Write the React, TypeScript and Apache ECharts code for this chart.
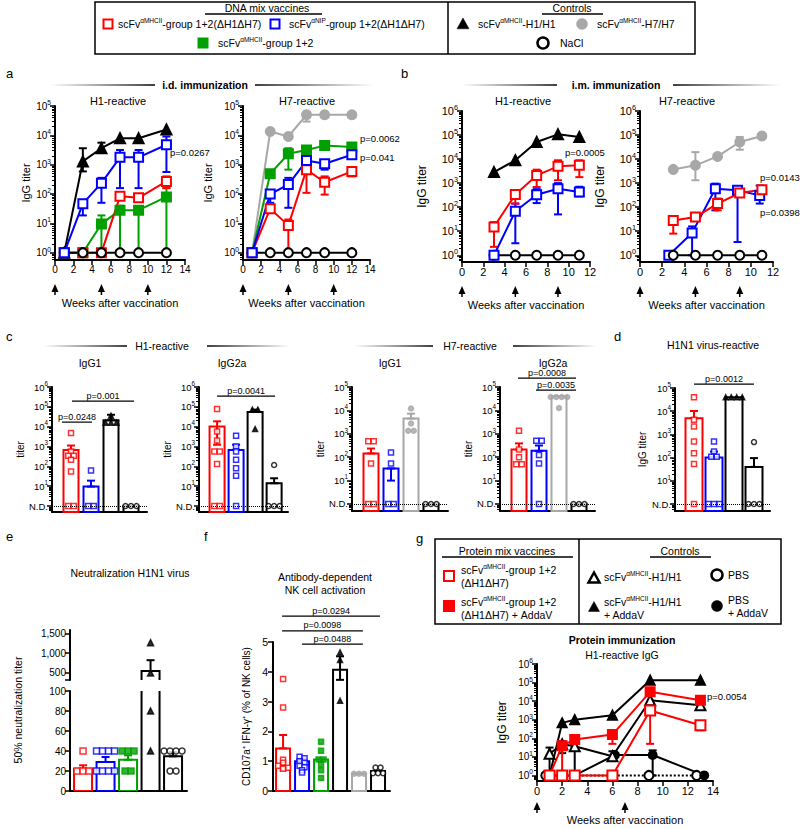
import React, { useEffect, useRef } from 'react';
import * as echarts from 'echarts';

const FONT = '"Liberation Sans", Arial, Helvetica, sans-serif';
const RED = '#ff0000';
const BLUE = '#0000ff';
const GREEN = '#00a000';
const GRAY = '#a8a8a8';
const BLACK = '#000000';

// ---------- Panel a: i.d. immunization (log10 IgG titer) ----------
const aWeeks = [1, 3, 5, 7, 9, 12];
const aVaccWeeks = [0, 5, 10];
const aH1_H1 = [0, 3.11, 3.56, 3.9, 3.9, 4.2];
const aH1_H1_err = [null, [2.77, 3.56], [3.45, 3.75], null, null, null];
const aH1_NIP = [0, 1.67, 2.37, 3.25, 3.25, 3.68];
const aH1_NIP_err = [null, [1.27, 1.8], [1.7, 2.55], [2.2, 3.5], [2.2, 3.5], [2.75, 3.96]];
const aH1_MHC = [0, 0, 0, 1.92, 1.87, 2.43];
const aH1_MHC_err = [null, null, null, [1.85, 2.0], [1.8, 1.95], [2.2, 2.6]];
const aH1_G12 = [0, 0, 0.98, 1.45, 1.45, 1.9];
const aH1_G12_err = [null, null, [0, 1.27], [0, 1.6], [0, 1.55], [0, 2.2]];
const aNaCl = [0, 0, 0, 0, 0, 0];
const aH7_H7 = [0, 4.13, 3.96, 4.7, 4.7, 4.7];
const aH7_H7_err = [null, null, null, [4.47, 4.8], [4.65, 4.76], [4.65, 4.76]];
const aH7_G12 = [0, 2.69, 3.37, 3.5, 3.65, 3.6];
const aH7_G12_err = [null, [2.6, 2.78], [2.83, 3.56], [3.42, 3.6], [3.5, 3.75], null];
const aH7_NIP = [0, 2.0, 2.32, 3.14, 3.03, 3.34];
const aH7_NIP_err = [null, [1.7, 2.1], [1.53, 2.55], [3.0, 3.25], [2.83, 3.15], [3.3, 3.4]];
const aH7_MHC = [0, 1.5, 0.93, 2.83, 2.4, 2.77];
const aH7_MHC_err = [null, [1.36, 1.64], [0, 1.13], [2.04, 2.95], [1.98, 2.6], [2.6, 2.9]];

// ---------- Panel b: i.m. immunization ----------
const bWeeks = [3, 5, 7, 9, 11];
const bVaccWeeks = [0, 5, 9];
const bH1_H1 = [3.46, 3.95, 4.71, 5.03, 4.92];
const bH1_MHC = [1.18, 2.53, 3.32, 3.7, 3.74];
const bH1_MHC_err = [[0.35, 1.38], [2.15, 2.7], [2.84, 3.56], [3.12, 3.95], [3.25, 3.95]];
const bH1_NIP = [0, 1.83, 2.52, 2.77, 2.63];
const bH1_NIP_err = [null, [0.5, 2.15], [2.17, 2.75], [1.7, 3.0], [2.45, 2.85]];
const bNaCl = [0, 0, 0, 0, 0];
const bH7_H7 = [3.57, 3.74, 4.11, 4.71, 4.96];
const bH7_H7_err = [null, [3.12, 4.29], null, [4.39, 4.92], null];
const bH7_MHC = [1.45, 1.59, 2.15, 2.59, 2.73];
const bH7_MHC_err = [[0.9, 1.59], [1.45, 1.73], [1.87, 2.36], [2.45, 2.66], [2.6, 2.8]];
const bH7_NIPWeeks = [2.6, 4.7, 6.8, 8.8, 10.8];
const bH7_NIP = [0, 0.93, 2.77, 2.7, 2.49];
const bH7_NIP_err = [null, [0, 1.2], [1.87, 2.98], [0.55, 2.85], [2.15, 2.9]];

// ---------- Panel c / d: bar titers (log10; 0 = N.D.) ----------
const cH1G1 = [
  { kind: 'redOpen', mean: 2.83, hi: 3.05, pts: [3.68, 2.75, 2.53, 2.53, 2.33, 1.74, 0, 0] },
  { kind: 'blueOpen', mean: 0.98, hi: 1.28, pts: [1.79, 0, 0] },
  { kind: 'blackTri', mean: 4.32, hi: 4.6, pts: [4.55, 4.2, 4.2, 4.2] },
  { kind: 'nacl', mean: 0, pts: [0, 0, 0] },
];
const cH1G2a = [
  { kind: 'redOpen', mean: 4.01, lo: 3.09, hi: 4.27, pts: [4.89, 3.76, 3.3, 2.75, 2.75, 2.12, 0, 0] },
  { kind: 'blueOpen', mean: 2.83, hi: 3.09, pts: [3.54, 3.0, 2.75, 2.33, 1.9, 1.53, 0] },
  { kind: 'blackTri', mean: 4.74, hi: 4.86, pts: [4.86, 4.86, 3.88] },
  { kind: 'nacl', mean: 1.15, hi: 1.4, pts: [2.07, 0, 0, 0] },
];
const cH7G1 = [
  { kind: 'redOpen', mean: 2.16, hi: 2.37, pts: [2.68, 2.68, 1.73, 0, 0] },
  { kind: 'blueOpen', mean: 1.52, lo: 1.0, hi: 1.52, pts: [2.2, 1.73, 0, 0] },
  { kind: 'grayCircle', mean: 3.65, hi: 3.86, pts: [4.08, 3.44, 3.13, 3.13] },
  { kind: 'nacl', mean: 0, pts: [0, 0, 0] },
];
const cH7G2a = [
  { kind: 'redOpen', mean: 2.33, hi: 2.59, pts: [3.13, 2.33, 2.0, 1.7, 1.7] },
  { kind: 'blueOpen', mean: 2.27, hi: 2.5, pts: [2.7, 2.7, 2.09, 1.73, 0] },
  { kind: 'grayCircle', mean: 4.6, pts: [4.57, 4.57, 4.57, 4.57, 4.1] },
  { kind: 'nacl', mean: 0, pts: [0, 0, 0] },
];
const dH1N1 = [
  { kind: 'redOpen', mean: 3.7, hi: 4.01, pts: [4.6, 3.63, 3.34, 2.69, 2.19, 1.73, 0] },
  { kind: 'blueOpen', mean: 2.01, hi: 2.26, pts: [2.69, 2.26, 2.04, 2.04, 0, 0, 0] },
  { kind: 'blackTri', mean: 4.6, pts: [4.6, 4.6, 4.6, 4.6] },
  { kind: 'nacl', mean: 1.6, hi: 1.98, pts: [2.67, 0, 0, 0] },
];
const cH1G1_sig = [[0.55, 2.05, 4.23], [1.05, 4.15, 5.29]];
const cH1G1_sigText = ['p=0.0248', 'p=0.001'];
const cH1G2a_sig = [[1.0, 4.05, 5.54]];
const cH1G2a_sigText = ['p=0.0041'];
const cH7G2a_sig = [[0.95, 3.85, 5.38], [1.85, 3.85, 4.87]];
const cH7G2a_sigText = ['p=0.0008', 'p=0.0035'];
const dSig = [[1.0, 4.0, 5.17]];
const dSigText = ['p=0.0012'];

// ---------- Panel e: neutralization titer ----------
const eNeut = [
  { kind: 'redOpen', mean: 22.3, hi: 25.7, pts: [40, 20, 20, 20] },
  { kind: 'blueOpen', mean: 29, hi: 34, pts: [40, 40, 40, 40, 20, 20, 20, 20] },
  { kind: 'greenOpen', mean: 31.3, hi: 35.7, pts: [40, 40, 40, 20, 20] },
  { kind: 'blackTri', mean: 534, hi: 815, pts: [1270, 480, 80, 40] },
  { kind: 'nacl', mean: 34.7, hi: 39, pts: [40, 40, 40, 40, 20, 20] },
];
const eUpperTicks = [500, 1000, 1500];

// ---------- Panel f: NK activation (%) ----------
const fNK = [
  { kind: 'redOpen', mean: 1.43, hi: 1.88, pts: [3.76, 2.8, 1.05, 0.95, 0.85, 0.78, 0.78, 0.75] },
  { kind: 'blueOpen', mean: 1.0, lo: 0.9, hi: 1.09, pts: [1.15, 1.1, 1.0, 0.95, 0.85, 0.8, 0.7, 0.62] },
  { kind: 'greenFill', mean: 1.06, pts: [1.65, 1.35, 1.06, 1.06, 0.9, 0.7, 0.44] },
  { kind: 'blackTri', mean: 4.07, lo: 3.73, hi: 4.52, pts: [4.65, 4.4, 3.03] },
  { kind: 'grayCircle', mean: 0.58, pts: [0.58, 0.58, 0.58] },
  { kind: 'nacl', mean: 0.67, pts: [0.79, 0.79, 0.6, 0.6, 0.6] },
];
const fSig = [[0.95, 6.1, 5.87], [0.95, 5.2, 5.37], [2.0, 5.2, 4.93]];
const fSigText = ['p=0.0294', 'p=0.0098', 'p=0.0488'];

// ---------- Panel g: protein immunization ----------
const gWeeks = [1, 2, 3, 6, 9, 13];
const gVaccWeeks = [0, 7];
const gMHC = [0, 0, 0, 0, 3.5, 2.7];
const gMHC_err = [null, null, null, null, [1.7, 3.7], [2.43, 2.8]];
const gMHCAdda = [0, 1.6, 1.93, 2.2, 4.5, 4.05];
const gMHCAdda_err = [null, [0, 1.85], null, [1.7, 2.3], null, null];
const gH1 = [1.17, 1.68, 1.57, 1.03, 4.05, 3.78];
const gH1_err = [[0, 1.5], [1.2, 1.85], [0, 1.75], [0.9, 1.3], null, null];
const gH1Adda = [0, 2.83, 3.0, 3.24, 5.13, 5.13];
const gPBSAddaWeeks = [1, 2, 3, 6.2, 9.2, 13.3];
const gPBSAdda = [0, 0, 0, 1.1, 1.1, 0];
const gPBSAdda_err = [null, null, null, null, [0, 1.35], null];
const gPBSWeeks = [0.7, 2, 3, 6, 8.9, 12.7];
const gPBS = [0, 0, 0, 0, 0, 0];

const KIND: any = {
  redOpen: { color: RED, symbol: 'rect', fill: '#fff' },
  blueOpen: { color: BLUE, symbol: 'rect', fill: '#fff' },
  greenFill: { color: GREEN, symbol: 'rect', fill: GREEN },
  greenOpen: { color: GREEN, symbol: 'rect', fill: GREEN },
  blackTri: { color: BLACK, symbol: 'triangle', fill: BLACK },
  grayCircle: { color: GRAY, symbol: 'circle', fill: GRAY },
  nacl: { color: BLACK, symbol: 'circle', fill: '#fff' },
  triOpen: { color: BLACK, symbol: 'triangle', fill: '#fff' },
  redFill: { color: RED, symbol: 'rect', fill: RED },
  blackCircle: { color: BLACK, symbol: 'circle', fill: BLACK },
};

function errRender(colors: any, cap: number, lw: number) {
  return (params: any, api: any) => {
    const col = Array.isArray(colors) ? colors[params.dataIndex] : colors;
    const x = api.value(0), lo = api.value(1), hi = api.value(2);
    const a = api.coord([x, lo]), b = api.coord([x, hi]);
    const st = { stroke: col, lineWidth: lw };
    return {
      type: 'group',
      children: [
        { type: 'line', shape: { x1: a[0], y1: a[1], x2: b[0], y2: b[1] }, style: st },
        { type: 'line', shape: { x1: b[0] - cap, y1: b[1], x2: b[0] + cap, y2: b[1] }, style: st },
        { type: 'line', shape: { x1: a[0] - cap, y1: a[1], x2: a[0] + cap, y2: a[1] }, style: st },
      ],
    };
  };
}

function barRender(colors: string[], w: number, ext: number) {
  return (params: any, api: any) => {
    const c = api.coord([api.value(0), api.value(1)]);
    const cs = params.coordSys;
    const bottom = cs.y + cs.height + ext;
    return {
      type: 'rect',
      shape: { x: c[0] - w / 2, y: c[1], width: w, height: bottom - c[1] },
      style: { fill: '#fff', stroke: colors[params.dataIndex], lineWidth: 2 },
    };
  };
}

function sigRender(texts: string[], fs: number) {
  return (params: any, api: any) => {
    const a = api.coord([api.value(0), api.value(2)]);
    const b = api.coord([api.value(1), api.value(2)]);
    return {
      type: 'group',
      children: [
        { type: 'line', shape: { x1: a[0], y1: a[1], x2: b[0], y2: b[1] }, style: { stroke: '#000', lineWidth: 1.2 } },
        {
          type: 'text', x: (a[0] + b[0]) / 2, y: a[1] - 1,
          style: { text: texts[params.dataIndex], fill: '#000', fontSize: fs, fontFamily: FONT, align: 'center', textAlign: 'center', verticalAlign: 'bottom', textVerticalAlign: 'bottom' },
        },
      ],
    };
  };
}

function arrowRender(off: number) {
  return (params: any, api: any) => {
    const cs = params.coordSys;
    const p = api.coord([api.value(0), api.value(1)]);
    const x = p[0], y = cs.y + cs.height + off;
    return {
      type: 'group',
      children: [
        { type: 'polygon', shape: { points: [[x, y], [x - 3.5, y + 8], [x + 3.5, y + 8]] }, style: { fill: '#000' } },
        { type: 'line', shape: { x1: x, y1: y + 7, x2: x, y2: y + 11 }, style: { stroke: '#000', lineWidth: 1.5 } },
      ],
    };
  };
}

function swarm(vals: number[], tol: number, step: number) {
  const offs = vals.map(() => 0);
  const used = vals.map(() => false);
  for (let i = 0; i < vals.length; i++) {
    if (used[i]) continue;
    const grp = [i];
    used[i] = true;
    for (let j = i + 1; j < vals.length; j++) {
      if (!used[j] && Math.abs(vals[j] - vals[i]) <= tol) { grp.push(j); used[j] = true; }
    }
    grp.forEach((idx, r) => { offs[idx] = (r - (grp.length - 1) / 2) * step; });
  }
  return offs;
}

function buildOption() {
  const grid: any[] = [], xAxis: any[] = [], yAxis: any[] = [], series: any[] = [];
  const addGrid = (left: number, top: number, width: number, height: number, x: any, ys: any[]) => {
    const gi = grid.length;
    grid.push({ left, top, width, height, containLabel: false, outerBoundsMode: 'none' });
    const xi = xAxis.length;
    xAxis.push({ ...x, gridIndex: gi });
    const yi = yAxis.length;
    ys.forEach((y) => yAxis.push({ ...y, gridIndex: gi }));
    return { xi, yi };
  };
  const axLine = { show: true, onZero: false, lineStyle: { color: '#000', width: 2 } };
  const nameStyle = (fs: number) => ({ color: '#000', fontSize: fs, fontFamily: FONT });

  const xWeeks = (max: number, gap: number, fs: number) => ({
    type: 'value', min: 0, max, interval: 2,
    axisLine: axLine,
    axisTick: { show: true, length: 5, lineStyle: { color: '#000', width: 1.5 } },
    axisLabel: { color: '#000', fontSize: fs, fontFamily: FONT, margin: 4 },
    splitLine: { show: false },
    name: 'Weeks after vaccination', nameLocation: 'middle', nameGap: gap, nameTextStyle: nameStyle(11),
  });
  const xBars = (min: number, max: number, show: boolean) => ({
    type: 'value', min, max, show,
    axisLine: axLine, axisTick: { show: false }, axisLabel: { show: false }, splitLine: { show: false },
  });
  const yLog = (min: number, max: number, o: any) => {
    const majors: number[] = [];
    for (let d = Math.ceil(min); d <= max + 1e-9; d++) majors.push(d);
    const minors: number[] = [];
    for (let d = Math.floor(min); d < max; d++) {
      for (let k = 2; k <= 9; k++) {
        const v = d + Math.log10(k);
        if (v > min && v < max) minors.push(v);
      }
    }
    const fs = o.fs;
    return [
      {
        type: 'value', min, max, position: 'left',
        axisLine: axLine,
        axisTick: { show: true, customValues: majors, length: 5, lineStyle: { color: '#000', width: 1.5 } },
        axisLabel: {
          show: true, customValues: majors, color: '#000', fontSize: fs, fontFamily: FONT, margin: 4,
          formatter: (v: number) => (o.nd && Math.abs(v) < 1e-6 ? '{b|N.D.}' : '{b|10}{e|' + Math.round(v) + '}'),
          rich: {
            b: { fontSize: fs, fontFamily: FONT, color: '#000', lineHeight: fs + 4 },
            e: { fontSize: fs * 0.66, fontFamily: FONT, color: '#000', verticalAlign: 'top', lineHeight: fs * 0.66 + 1 },
          },
        },
        splitLine: { show: false },
        name: o.name || '', nameLocation: 'middle', nameGap: o.gap || 30, nameTextStyle: nameStyle(o.nfs || 11),
      },
      {
        type: 'value', min, max, position: 'left',
        axisLine: { show: false }, axisLabel: { show: false }, splitLine: { show: false },
        axisTick: { show: true, customValues: minors, length: 3, lineStyle: { color: '#000', width: 1 } },
      },
    ];
  };

  const lineS = (G: any, weeks: number[], vals: number[], err: any[] | null, kind: string, size: number, dotted?: boolean) => {
    const k = KIND[kind];
    const out: any[] = [];
    if (err) {
      const ed: any[] = [];
      weeks.forEach((w, i) => { if (err[i]) ed.push([w, err[i][0], err[i][1]]); });
      out.push({ type: 'custom', xAxisIndex: G.xi, yAxisIndex: G.yi, silent: true, z: 2, renderItem: errRender(k.color, 4, 2), data: ed });
    }
    out.push({
      type: 'line', xAxisIndex: G.xi, yAxisIndex: G.yi, silent: true, z: 3,
      data: weeks.map((w, i) => [w, vals[i]]),
      symbol: k.symbol, symbolSize: size, showSymbol: true, showAllSymbol: true,
      lineStyle: { color: k.color, width: 2, type: dotted ? 'dotted' : 'solid' },
      itemStyle: { color: k.fill, borderColor: k.color, borderWidth: 2 },
    });
    return out;
  };
  const arrowS = (G: any, weeks: number[], off: number) => ({
    type: 'custom', xAxisIndex: G.xi, yAxisIndex: G.yi, silent: true, z: 5,
    renderItem: arrowRender(off), data: weeks.map((w) => [w, 0]),
  });
  const sigS = (G: any, data: number[][], texts: string[], fs: number) => ({
    type: 'custom', xAxisIndex: G.xi, yAxisIndex: G.yi, silent: true, z: 5,
    renderItem: sigRender(texts, fs), data,
  });
  const barPanel = (G: any, groups: any[], o: any) => {
    const lo = o.rlo ?? -Infinity, hi = o.rhi ?? Infinity;
    const out: any[] = [];
    const bd: any[] = [], bc: string[] = [];
    groups.forEach((g, i) => { if (g.mean >= lo) { bd.push([i + 1, g.mean]); bc.push(KIND[g.kind].color); } });
    out.push({ type: 'custom', xAxisIndex: G.xi, yAxisIndex: G.yi, silent: true, clip: !!o.clip, z: 1, renderItem: barRender(bc, o.barW, o.ext || 0), data: bd });
    const ed: any[] = [], ec: string[] = [];
    groups.forEach((g, i) => {
      if (g.hi != null && g.hi >= lo && g.hi <= hi) { ed.push([i + 1, g.lo ?? g.mean, g.hi]); ec.push(KIND[g.kind].color); }
    });
    out.push({ type: 'custom', xAxisIndex: G.xi, yAxisIndex: G.yi, silent: true, z: 2, renderItem: errRender(ec, 4, 2), data: ed });
    const pts: any[] = [];
    groups.forEach((g, i) => {
      const k = KIND[g.kind];
      const vals = g.pts.filter((v: number) => v >= lo && v <= hi);
      const offs = swarm(vals, o.tol, o.step);
      vals.forEach((v: number, j: number) => pts.push({
        value: [i + 1, v], symbol: k.symbol, symbolSize: o.pt, symbolOffset: [offs[j], 0],
        itemStyle: { color: k.fill, borderColor: k.color, borderWidth: 1.5 },
      }));
    });
    const sc: any = { type: 'scatter', xAxisIndex: G.xi, yAxisIndex: G.yi, silent: true, z: 3, data: pts };
    if (o.nd) {
      sc.markLine = { silent: true, symbol: 'none', label: { show: false }, lineStyle: { type: 'dotted', color: '#000', width: 1 }, data: [{ yAxis: 0 }] };
    }
    out.push(sc);
    return out;
  };

  // ---- a ----
  const A1 = addGrid(55, 106, 130, 154, xWeeks(14, 37, 10), yLog(-0.25, 5, { name: 'IgG titer', gap: 24, fs: 10 }));
  series.push(
    ...lineS(A1, aWeeks, aH1_G12, aH1_G12_err, 'greenFill', 9),
    ...lineS(A1, aWeeks, aH1_MHC, aH1_MHC_err, 'redOpen', 9),
    ...lineS(A1, aWeeks, aH1_H1, aH1_H1_err, 'blackTri', 10),
    ...lineS(A1, aWeeks, aNaCl, null, 'nacl', 9),
    ...lineS(A1, aWeeks, aH1_NIP, aH1_NIP_err, 'blueOpen', 9),
    arrowS(A1, aVaccWeeks, 24),
  );
  const A2 = addGrid(243, 106, 127, 154, xWeeks(14, 37, 10), yLog(-0.25, 5, { name: 'IgG titer', gap: 30, fs: 10 }));
  series.push(
    ...lineS(A2, aWeeks, aH7_H7, aH7_H7_err, 'grayCircle', 9),
    ...lineS(A2, aWeeks, aH7_G12, aH7_G12_err, 'greenFill', 9),
    ...lineS(A2, aWeeks, aH7_MHC, aH7_MHC_err, 'redOpen', 9),
    ...lineS(A2, aWeeks, aNaCl, null, 'nacl', 9),
    ...lineS(A2, aWeeks, aH7_NIP, aH7_NIP_err, 'blueOpen', 9),
    arrowS(A2, aVaccWeeks, 24),
  );
  // ---- b ----
  const B1 = addGrid(462, 111, 128, 151, xWeeks(12, 37, 11), yLog(-0.28, 6, { name: 'IgG titer', gap: 34, fs: 11, nfs: 12 }));
  series.push(
    ...lineS(B1, bWeeks, bH1_H1, null, 'blackTri', 10),
    ...lineS(B1, bWeeks, bNaCl, null, 'nacl', 9),
    ...lineS(B1, bWeeks, bH1_NIP, bH1_NIP_err, 'blueOpen', 9),
    ...lineS(B1, bWeeks, bH1_MHC, bH1_MHC_err, 'redOpen', 9),
    arrowS(B1, bVaccWeeks, 24),
  );
  const B2 = addGrid(640, 111, 133, 151, xWeeks(12, 37, 11), yLog(-0.28, 6, { name: 'IgG titer', gap: 34, fs: 11, nfs: 12 }));
  series.push(
    ...lineS(B2, bWeeks, bH7_H7, bH7_H7_err, 'grayCircle', 9),
    ...lineS(B2, bH7_NIPWeeks, bH7_NIP, bH7_NIP_err, 'blueOpen', 9),
    ...lineS(B2, bWeeks, bNaCl, null, 'nacl', 9),
    ...lineS(B2, bWeeks, bH7_MHC, bH7_MHC_err, 'redOpen', 9),
    arrowS(B2, bVaccWeeks, 24),
  );
  // ---- c ----
  const barOpt = { barW: 15, tol: 0.12, step: 5.5, pt: 5, nd: true };
  const C1 = addGrid(52, 387, 95, 125, xBars(0.05, 4.8, true), yLog(-0.3, 6, { name: 'titer', gap: 26, fs: 9.5, nd: true, nfs: 10 }));
  series.push(...barPanel(C1, cH1G1, barOpt), sigS(C1, cH1G1_sig, cH1G1_sigText, 9));
  const C2 = addGrid(199, 387, 89, 125, xBars(0.05, 4.73, true), yLog(-0.3, 6, { name: 'titer', gap: 26, fs: 9.5, nd: true, nfs: 10 }));
  series.push(...barPanel(C2, cH1G2a, barOpt), sigS(C2, cH1G2a_sig, cH1G2a_sigText, 9));
  const C3 = addGrid(352, 387, 96, 124, xBars(0.05, 4.85, true), yLog(-0.3, 5, { name: 'titer', gap: 26, fs: 9.5, nd: true, nfs: 10 }));
  series.push(...barPanel(C3, cH7G1, barOpt));
  const C4 = addGrid(500, 387, 95, 124, xBars(0.05, 4.8, true), yLog(-0.3, 5, { name: 'titer', gap: 26, fs: 9.5, nd: true, nfs: 10 }));
  series.push(...barPanel(C4, cH7G2a, barOpt), sigS(C4, cH7G2a_sig, cH7G2a_sigText, 9));
  const D = addGrid(675, 388, 95, 123, xBars(0.05, 4.8, true), yLog(-0.3, 5, { name: 'IgG titer', gap: 28, fs: 9.5, nd: true, nfs: 10 }));
  series.push(...barPanel(D, dH1N1, { ...barOpt, barW: 17 }), sigS(D, dSig, dSigText, 9));

  // ---- e ----
  const linY = (min: number, max: number, extra: any) => ({
    type: 'value', min, max, position: 'left',
    axisLine: axLine,
    axisTick: { show: true, length: 5, lineStyle: { color: '#000', width: 1.5 } },
    axisLabel: { color: '#000', fontSize: 10, fontFamily: FONT, margin: 4 },
    splitLine: { show: false },
    ...extra,
  });
  const EU = addGrid(70, 630, 117, 50, xBars(0.42, 5.62, false), [linY(300, 1600, {
    axisTick: { show: true, customValues: [300, ...eUpperTicks], length: 5, lineStyle: { color: '#000', width: 1.5 } },
    axisLabel: { customValues: eUpperTicks, color: '#000', fontSize: 10, fontFamily: FONT, margin: 4, formatter: (v: number) => v.toLocaleString('en-US') },
  })]);
  series.push(...barPanel(EU, eNeut, { barW: 18, tol: 5, step: 6, pt: 6, rlo: 300, rhi: 1600, clip: true, ext: 4 }));
  const EL = addGrid(70, 691, 117, 100, xBars(0.42, 5.62, true), [linY(0, 100, { interval: 20 })]);
  series.push(...barPanel(EL, eNeut, { barW: 18, tol: 5, step: 6, pt: 6, rlo: 0, rhi: 100, clip: true }));

  // ---- f ----
  const F = addGrid(273, 642, 117, 149, xBars(0.47, 6.63, true), [linY(0, 5, {
    interval: 1, axisLabel: { color: '#000', fontSize: 10.5, fontFamily: FONT, margin: 5 },
    name: 'CD107a⁺ IFN-γ⁺ (% of NK cells)', nameLocation: 'middle', nameGap: 22, nameTextStyle: nameStyle(10),
  })]);
  series.push(...barPanel(F, fNK, { barW: 14, tol: 0.07, step: 5, pt: 5 }), sigS(F, fSig, fSigText, 9));

  // ---- g ----
  const G = addGrid(537, 664, 176, 117, xWeeks(14, 33, 11), yLog(-0.3, 6, { name: 'IgG titer', gap: 29, fs: 10, nfs: 12 }));
  series.push(
    ...lineS(G, gPBSWeeks, gPBS, null, 'nacl', 9, true),
    ...lineS(G, gPBSAddaWeeks, gPBSAdda, gPBSAdda_err, 'blackCircle', 8),
    ...lineS(G, gWeeks, gH1Adda, null, 'blackTri', 9),
    ...lineS(G, gWeeks, gH1, gH1_err, 'triOpen', 10),
    ...lineS(G, gWeeks, gMHCAdda, gMHCAdda_err, 'redFill', 9),
    ...lineS(G, gWeeks, gMHC, gMHC_err, 'redOpen', 10),
    arrowS(G, gVaccWeeks, 21),
  );

  // ---- graphics ----
  const gr: any[] = [];
  const T = (x: number, y: number, text: string, fs: number, o: any = {}) => ({
    type: 'text', x, y, rotation: o.rot || 0,
    style: {
      text, fill: '#000', fontSize: fs, fontFamily: FONT, fontWeight: o.bold ? 'bold' : 'normal',
      align: o.align || 'center', textAlign: o.align || 'center', verticalAlign: 'middle', textVerticalAlign: 'middle',
    },
  });
  const RT = (x: number, y: number, pre: string, sup: string, post: string, fs: number) => ({
    type: 'text', x, y,
    style: {
      text: `{a|${pre}}{s|${sup}}{a|${post}}`, fill: '#000', fontSize: fs, fontFamily: FONT,
      align: 'left', textAlign: 'left', verticalAlign: 'middle', textVerticalAlign: 'middle',
      rich: {
        a: { fontSize: fs, fontFamily: FONT, fill: '#000', color: '#000', lineHeight: fs + 4 },
        s: { fontSize: fs * 0.62, fontFamily: FONT, fill: '#000', color: '#000', verticalAlign: 'top', lineHeight: fs * 0.62 + 1 },
      },
    },
  });
  const L = (x1: number, y1: number, x2: number, y2: number, w = 1.5) => ({ type: 'line', shape: { x1, y1, x2, y2 }, style: { stroke: '#000', lineWidth: w } });
  const GL = (x1: number, x2: number, y: number, dir: number) => ({
    type: 'rect', shape: { x: x1, y: y - 0.8, width: x2 - x1, height: 1.6 },
    style: {
      fill: {
        type: 'linear', x: 0, y: 0, x2: 1, y2: 0,
        colorStops: dir > 0
          ? [{ offset: 0, color: 'rgba(0,0,0,0)' }, { offset: 1, color: '#000' }]
          : [{ offset: 0, color: '#000' }, { offset: 1, color: 'rgba(0,0,0,0)' }],
      },
    },
  });
  const sq = (x: number, y: number, c: string, filled: boolean, s = 9) => ({ type: 'rect', shape: { x: x - s / 2, y: y - s / 2, width: s, height: s }, style: { fill: filled ? c : '#fff', stroke: c, lineWidth: 2 } });
  const tri = (x: number, y: number, filled: boolean, s = 6) => ({ type: 'polygon', shape: { points: [[x, y - s], [x - s, y + s * 0.8], [x + s, y + s * 0.8]] }, style: { fill: filled ? '#000' : '#fff', stroke: '#000', lineWidth: filled ? 0.5 : 2.5 } });
  const circ = (x: number, y: number, c: string, filled: boolean, r = 5.5) => ({ type: 'circle', shape: { cx: x, cy: y, r }, style: { fill: filled ? c : '#fff', stroke: c, lineWidth: filled ? 0.5 : 2.5 } });

  // top legend
  gr.push({ type: 'rect', shape: { x: 95, y: 2, width: 600, height: 52 }, style: { fill: 'none', stroke: '#000', lineWidth: 1.5 } });
  gr.push(L(448, 2, 448, 54));
  gr.push(T(267, 8, 'DNA mix vaccines', 10.5), L(205, 14, 322, 14, 1.5));
  gr.push(T(572, 8, 'Controls', 10.5), L(542, 14, 603, 14, 1.5));
  gr.push(sq(108, 24, RED, false), RT(118, 24, 'scFv', 'αMHCII', '-group 1+2(ΔH1ΔH7)', 10.5));
  gr.push(sq(275, 24, BLUE, false), RT(289, 24, 'scFv', 'αNIP', '-group 1+2(ΔH1ΔH7)', 10.5));
  gr.push(sq(203, 43, GREEN, true), RT(218, 43, 'scFv', 'αMHCII', '-group 1+2', 10.5));
  gr.push(tri(463, 24, true), RT(478, 24, 'scFv', 'αMHCII', '-H1/H1', 10.5));
  gr.push(circ(582, 24, GRAY, true), RT(597, 24, 'scFv', 'αMHCII', '-H7/H7', 10.5));
  gr.push(circ(543, 43, BLACK, false), T(560, 43, 'NaCl', 10.5, { align: 'left' }));

  // panel letters
  gr.push(T(6, 73, 'a', 13, { align: 'left' }), T(401, 73, 'b', 13, { align: 'left' }), T(6, 336, 'c', 13, { align: 'left' }),
    T(614, 336, 'd', 13, { align: 'left' }), T(6, 536, 'e', 13, { align: 'left' }), T(204, 536, 'f', 13, { align: 'left' }),
    T(416, 538, 'g', 13, { align: 'left' }));

  // a / b headers
  gr.push(T(205, 85, 'i.d. immunization', 10.5, { bold: true }), GL(50, 155, 85, 1), GL(255, 373, 85, -1));
  gr.push(T(616, 85, 'i.m. immunization', 10.5, { bold: true }), GL(462, 557, 85, 1), GL(673, 780, 85, -1));
  gr.push(T(118, 101, 'H1-reactive', 11), T(307, 101, 'H7-reactive', 11), T(523, 101, 'H1-reactive', 11), T(687, 101, 'H7-reactive', 11));
  gr.push(T(170, 152, 'p=0.0267', 9.5, { align: 'left' }));
  gr.push(T(360, 138, 'p=0.0062', 9.5, { align: 'left' }), T(360, 157, 'p=0.041', 9.5, { align: 'left' }));
  gr.push(T(565, 152, 'p=0.0005', 9.5, { align: 'left' }));
  gr.push(T(760, 177, 'p=0.0143', 9.5, { align: 'left' }), T(760, 212, 'p=0.0398', 9.5, { align: 'left' }));

  // c / d headers
  gr.push(T(162, 346, 'H1-reactive', 10.5), GL(43, 127, 346, 1), GL(207, 290, 346, -1));
  gr.push(T(470, 346, 'H7-reactive', 10.5), GL(354, 433, 346, 1), GL(513, 597, 346, -1));
  gr.push(T(90, 363, 'IgG1', 10.5), T(232, 363, 'IgG2a', 10.5), T(390, 363, 'IgG1', 10.5), T(553, 363, 'IgG2a', 10.5));
  gr.push(T(713, 345, 'H1N1 virus-reactive', 10.5));

  // e / f headers
  gr.push(T(130, 573, 'Neutralization H1N1 virus', 10.5));
  gr.push(T(18, 710, '50% neutralization titer', 10.5, { rot: Math.PI / 2 }));
  gr.push(T(325, 577, 'Antibody-dependent', 10.5), T(325, 590, 'NK cell activation', 10.5));

  // g legend
  gr.push({ type: 'rect', shape: { x: 435, y: 539, width: 346, height: 85 }, style: { fill: 'none', stroke: '#000', lineWidth: 1.5 } });
  gr.push(L(579, 539, 579, 624));
  gr.push(T(507, 551, 'Protein mix vaccines', 10.5), L(442, 557, 573, 557, 1.5));
  gr.push(T(680, 551, 'Controls', 10.5), L(650, 557, 711, 557, 1.5));
  gr.push(sq(449, 576, RED, false, 10), RT(461, 570, 'scFv', 'αMHCII', '-group 1+2', 10.5), T(461, 583, '(ΔH1ΔH7)', 10.5, { align: 'left' }));
  gr.push(sq(449, 606, RED, true, 10), RT(461, 602, 'scFv', 'αMHCII', '-group 1+2', 10.5), T(461, 615, '(ΔH1ΔH7) + AddaV', 10.5, { align: 'left' }));
  gr.push(tri(594, 578, false, 5.5), RT(604, 577, 'scFv', 'αMHCII', '-H1/H1', 10.5));
  gr.push(tri(594, 607, true, 5.5), RT(604, 602, 'scFv', 'αMHCII', '-H1/H1', 10.5), T(604, 615, '+ AddaV', 10.5, { align: 'left' }));
  gr.push(circ(717, 575, BLACK, false, 5.5), T(728, 575, 'PBS', 10.5, { align: 'left' }));
  gr.push(circ(717, 606, BLACK, true, 5.5), T(728, 600, 'PBS', 10.5, { align: 'left' }), T(728, 613, '+ AddaV', 10.5, { align: 'left' }));
  gr.push(T(622, 640, 'Protein immunization', 10.5, { bold: true }), T(622, 655, 'H1-reactive IgG', 10.5));
  gr.push(T(707, 696, 'p=0.0054', 9.5, { align: 'left' }));

  return { animation: false, backgroundColor: '#fff', grid, xAxis, yAxis, series, graphic: gr };
}

export default function App() {
  const ref = useRef<HTMLDivElement>(null);
  useEffect(() => {
    const chart = echarts.init(ref.current!, null, { renderer: 'svg' });
    chart.setOption(buildOption() as any);
    return () => chart.dispose();
  }, []);
  return <div ref={ref} style={{ position: 'absolute', left: 0, top: 0, width: 800, height: 829, background: '#fff' }} />;
}
